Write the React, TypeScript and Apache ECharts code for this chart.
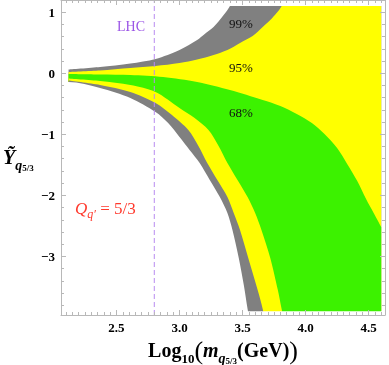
import React, { useEffect, useRef } from "react";
import * as echarts from "echarts";

// Axis ranges and ticks
const X_RANGE = [2.06, 4.63];
const Y_RANGE = [-3.96, 1.2];
const X_MAJOR = [2.5, 3.0, 3.5, 4.0, 4.5];
const Y_MAJOR = [-3, -2, -1, 0, 1];
const X_MINOR = Array.from({ length: 51 }, (_, i) => +(2.1 + i * 0.05).toFixed(2));
const Y_MINOR = Array.from({ length: 26 }, (_, i) => +(-3.8 + i * 0.2).toFixed(1));

// Plotted region of the scan (the bands are cut here)
const DATA_X = [2.12, 4.6];
const DATA_Y = [-3.9, 1.1];

// Band boundaries: [log10 m, Y]
const grayUpperOuter = [[2.12, 0.062], [2.37, 0.103], [2.61, 0.16], [2.81, 0.234], [3.0, 0.381], [3.14, 0.545], [3.2, 0.643], [3.27, 0.758], [3.35, 0.954], [3.4, 1.102], [3.44, 1.3], [3.5, 1.6], [4.6, 1.6]];
const grayUpperInner = [[2.12, 0.021], [2.37, 0.045], [2.61, 0.086], [2.81, 0.119], [3.0, 0.168], [3.14, 0.225], [3.27, 0.299], [3.38, 0.381], [3.48, 0.496], [3.58, 0.61], [3.66, 0.758], [3.72, 0.872], [3.77, 0.987], [3.81, 1.102], [3.84, 1.3], [3.88, 1.6], [4.6, 1.6]];
const greenUpper = [[2.12, -0.012], [2.37, -0.02], [2.61, -0.028], [2.87, -0.061], [3.14, -0.143], [3.4, -0.274], [3.66, -0.438], [3.8, -0.536], [3.93, -0.667], [4.05, -0.815], [4.15, -0.995], [4.25, -1.224], [4.33, -1.486], [4.41, -1.765], [4.48, -2.06], [4.54, -2.289], [4.6, -2.518]];
const greenLower = [[2.12, -0.086], [2.37, -0.127], [2.61, -0.192], [2.81, -0.307], [3.0, -0.569], [3.12, -0.733], [3.23, -0.929], [3.31, -1.191], [3.38, -1.47], [3.46, -1.748], [3.54, -2.027], [3.6, -2.289], [3.65, -2.567], [3.72, -3.026], [3.78, -3.55], [3.81, -3.861], [3.85, -4.3]];
const yellowLower = [[2.12, -0.119], [2.37, -0.192], [2.61, -0.307], [2.81, -0.487], [2.94, -0.684], [3.07, -0.929], [3.15, -1.191], [3.22, -1.47], [3.3, -1.748], [3.38, -2.027], [3.43, -2.289], [3.48, -2.567], [3.55, -3.059], [3.62, -3.55], [3.66, -3.861], [3.69, -4.21]];
const grayLowerOuter = [[2.07, -0.143], [2.12, -0.143], [2.37, -0.241], [2.61, -0.405], [2.81, -0.635], [2.91, -0.815], [3.0, -1.044], [3.08, -1.257], [3.16, -1.47], [3.24, -1.748], [3.32, -2.027], [3.38, -2.289], [3.42, -2.567], [3.47, -3.026], [3.51, -3.468], [3.54, -3.861], [3.57, -4.21]];
const LHC_X = 2.8;

const GRAY = "#808080";
const YELLOW = "#ffff00";
const GREEN = "#3cf200";
const SERIF = "Liberation Serif";
const axisLineStyle = { color: "#b8b8b8", width: 1 };

const fmt = (v: number) => (v < 0 ? "\u2212" + Math.abs(v) : String(v));

function makeAxis(kind: "x" | "y", position: string, values: number[], len: number, labels: boolean, line: boolean) {
  const range = kind === "x" ? X_RANGE : Y_RANGE;
  return {
    type: "value",
    position,
    min: range[0],
    max: range[1],
    z: 10,
    axisLine: { show: line, onZero: false, lineStyle: axisLineStyle },
    axisTick: { show: true, inside: true, length: len, customValues: values, lineStyle: axisLineStyle },
    axisLabel: labels
      ? {
          show: true,
          customValues: values,
          margin: 6,
          formatter: (v: number) => (kind === "x" ? v.toFixed(1) : fmt(v)),
          fontFamily: SERIF,
          fontWeight: "bold",
          fontSize: 13,
          color: "#000",
        }
      : { show: false },
    splitLine: { show: false },
    minorTick: { show: false },
  };
}

function band(data: number[][], color: string) {
  return {
    type: "line",
    data,
    smooth: 0.3,
    showSymbol: false,
    symbol: "none",
    silent: true,
    z: 2,
    lineStyle: { width: 0, color },
    areaStyle: { color, opacity: 1, origin: "start" },
  };
}

const textGraphics = [
  {
    type: "text",
    x: 223,
    y: 350,
    z: 20,
    style: {
      text: "{b|Log}{s|10}{p|(}{i|m}{si|q}{ss|5/3}{b|(GeV)}{p|)}",
      align: "center",
      verticalAlign: "middle",
      rich: {
        b: { fontFamily: SERIF, fontWeight: "bold", fontSize: 20, lineHeight: 30, fill: "#000" },
        s: { fontFamily: SERIF, fontWeight: "bold", fontSize: 13, lineHeight: 13, verticalAlign: "bottom", fill: "#000" },
        p: { fontFamily: SERIF, fontWeight: "normal", fontSize: 26, lineHeight: 30, fill: "#000" },
        i: { fontFamily: SERIF, fontWeight: "bold", fontStyle: "italic", fontSize: 20, lineHeight: 30, fill: "#000" },
        si: { fontFamily: SERIF, fontWeight: "bold", fontStyle: "italic", fontSize: 14, lineHeight: 14, verticalAlign: "bottom", fill: "#000" },
        ss: { fontFamily: SERIF, fontWeight: "bold", fontSize: 9, lineHeight: 6, verticalAlign: "bottom", fill: "#000" },
      },
    },
  },
  {
    type: "text",
    x: 3,
    y: 157,
    z: 20,
    style: {
      text: "{i|\u1EF8}{si|q}{ss|5/3}",
      align: "left",
      verticalAlign: "middle",
      rich: {
        i: { fontFamily: SERIF, fontWeight: "bold", fontStyle: "italic", fontSize: 20, lineHeight: 30, fill: "#000" },
        si: { fontFamily: SERIF, fontWeight: "bold", fontStyle: "italic", fontSize: 14, lineHeight: 14, verticalAlign: "bottom", fill: "#000" },
        ss: { fontFamily: SERIF, fontWeight: "bold", fontSize: 9, lineHeight: 6, verticalAlign: "bottom", fill: "#000" },
      },
    },
  },
  {
    type: "text",
    x: 75,
    y: 208,
    z: 20,
    style: {
      text: "{q|Q}{s|q\u2032}{t| = 5/3}",
      align: "left",
      verticalAlign: "middle",
      rich: {
        q: { fontFamily: SERIF, fontStyle: "italic", fontSize: 17, lineHeight: 24, fill: "#ff3a2e" },
        s: { fontFamily: SERIF, fontStyle: "italic", fontSize: 12, lineHeight: 10, verticalAlign: "bottom", fill: "#ff3a2e" },
        t: { fontFamily: SERIF, fontSize: 17, lineHeight: 24, fill: "#ff3a2e" },
      },
    },
  },
  {
    type: "text",
    x: 131,
    y: 26,
    z: 20,
    style: { text: "LHC", align: "center", verticalAlign: "middle", fontFamily: SERIF, fontSize: 14, fill: "#9b55e6" },
  },
  {
    type: "text",
    x: 241,
    y: 23,
    z: 20,
    style: { text: "99%", align: "center", verticalAlign: "middle", fontFamily: SERIF, fontSize: 13, fill: "#111" },
  },
  {
    type: "text",
    x: 241,
    y: 67,
    z: 20,
    style: { text: "95%", align: "center", verticalAlign: "middle", fontFamily: SERIF, fontSize: 13, fill: "#111" },
  },
  {
    type: "text",
    x: 241,
    y: 112,
    z: 20,
    style: { text: "68%", align: "center", verticalAlign: "middle", fontFamily: SERIF, fontSize: 13, fill: "#111" },
  },
];

export default function App() {
  const ref = useRef<HTMLDivElement>(null);
  useEffect(() => {
    if (!ref.current) return;
    const chart = echarts.init(ref.current, null, { renderer: "svg" });
    chart.setOption({
      animation: false,
      grid: { left: 61, right: 4, top: 0, bottom: 50, containLabel: false, outerBoundsMode: "none" },
      xAxis: [
        makeAxis("x", "bottom", X_MAJOR, 5, true, true),
        makeAxis("x", "bottom", X_MINOR, 3, false, false),
        makeAxis("x", "top", X_MAJOR, 5, false, true),
        makeAxis("x", "top", X_MINOR, 3, false, false),
      ],
      yAxis: [
        makeAxis("y", "left", Y_MAJOR, 5, true, true),
        makeAxis("y", "left", Y_MINOR, 3, false, false),
        makeAxis("y", "right", Y_MAJOR, 5, false, true),
        makeAxis("y", "right", Y_MINOR, 3, false, false),
      ],
      series: [
        band(grayUpperOuter, GRAY),
        band(grayUpperInner, YELLOW),
        band(greenUpper, GREEN),
        band(greenLower, YELLOW),
        band(yellowLower, GRAY),
        band(grayLowerOuter, "#ffffff"),
        {
          type: "line",
          data: [[LHC_X, Y_RANGE[0]], [LHC_X, Y_RANGE[1]]],
          showSymbol: false,
          symbol: "none",
          silent: true,
          z: 6,
          lineStyle: { color: "#b88cf0", width: 1, type: [5, 3] },
        },
      ],
      graphic: textGraphics,
    });
    // white strips that cut the bands at the edges of the scanned region
    const tl = chart.convertToPixel({ xAxisIndex: 0, yAxisIndex: 0 }, [X_RANGE[0], Y_RANGE[1]]) as number[];
    const br = chart.convertToPixel({ xAxisIndex: 0, yAxisIndex: 0 }, [X_RANGE[1], Y_RANGE[0]]) as number[];
    const top = chart.convertToPixel({ xAxisIndex: 0, yAxisIndex: 0 }, [DATA_X[1], DATA_Y[1]]) as number[];
    const bot = chart.convertToPixel({ xAxisIndex: 0, yAxisIndex: 0 }, [DATA_X[1], DATA_Y[0]]) as number[];
    chart.setOption({
      graphic: [
        ...textGraphics,
        {
          type: "rect",
          z: 4,
          silent: true,
          shape: { x: tl[0], y: tl[1], width: br[0] - tl[0], height: top[1] - tl[1] },
          style: { fill: "#ffffff" },
        },
        {
          type: "rect",
          z: 4,
          silent: true,
          shape: { x: tl[0], y: bot[1], width: br[0] - tl[0], height: br[1] - bot[1] },
          style: { fill: "#ffffff" },
        },
      ],
    });
    return () => chart.dispose();
  }, []);
  return <div ref={ref} style={{ position: "fixed", left: 0, top: 0, width: 389, height: 365 }} />;
}
